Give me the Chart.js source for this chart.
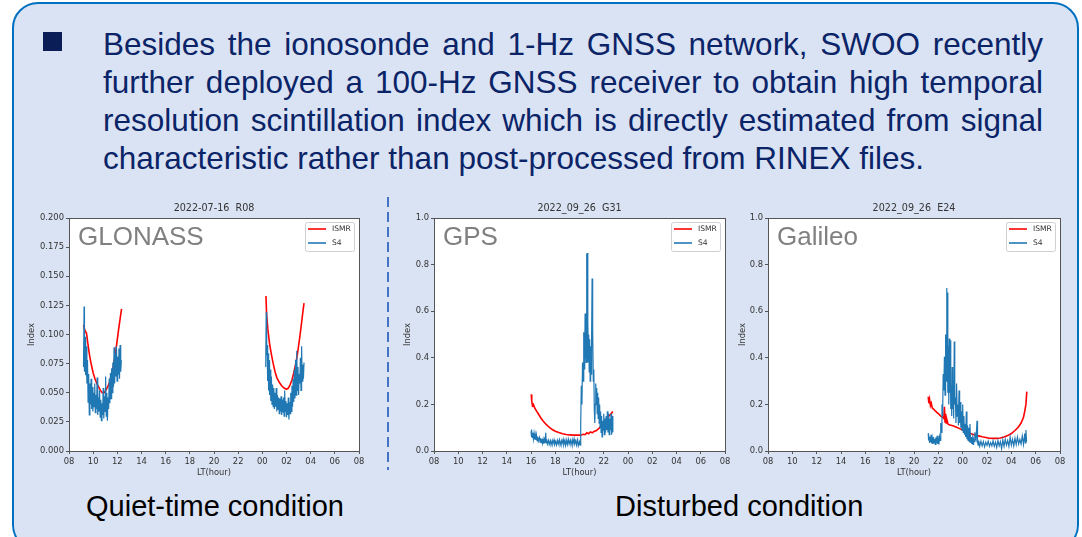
<!DOCTYPE html>
<html>
<head>
<meta charset="utf-8">
<script src="https://cdn.jsdelivr.net/npm/chart.js@4.4.0/dist/chart.umd.min.js"></script>
<style>
  html, body { margin: 0; padding: 0; background: #fff; overflow: hidden; }
  body { width: 1082px; height: 537px; position: relative; font-family: "Liberation Sans", Arial, sans-serif; }
  #slide {
    position: absolute; left: 12px; top: 2px; width: 1063px; height: 545px;
    background: #dae3f3; border: 2px solid #0070c0; border-radius: 26px;
  }
  #bullet { position: absolute; left: 43px; top: 32px; width: 19px; height: 19px; background: #0b1d57; }
  #para { position: absolute; left: 103px; top: 25px; width: 940px; color: #0b2468; font-size: 31.5px; line-height: 38px; }
  #para div { white-space: nowrap; }
  #para .j { text-align: justify; text-align-last: justify; white-space: normal; }
  .cap { position: absolute; top: 487px; font-size: 29px; line-height: 38px; color: #000; }
  #sep {
    position: absolute; left: 387px; top: 197px; width: 2px; height: 273px;
    background: repeating-linear-gradient(to bottom, #4472c4 0 10px, transparent 10px 15px);
  }
  canvas { position: absolute; }
</style>
</head>
<body>
<div id="slide"></div>
<div id="bullet"></div>
<div id="para">
  <div class="j">Besides the ionosonde and 1-Hz GNSS network, SWOO recently</div>
  <div class="j">further deployed a 100-Hz GNSS receiver to obtain high temporal</div>
  <div class="j">resolution scintillation index which is directly estimated from signal</div>
  <div>characteristic rather than post-processed from RINEX files.</div>
</div>
<div id="sep"></div>
<canvas id="glonass" width="355" height="285" style="left:20px;top:198px"></canvas>
<canvas id="gps" width="341" height="285" style="left:396px;top:198px"></canvas>
<canvas id="galileo" width="341" height="285" style="left:731px;top:198px"></canvas>
<div class="cap" style="left:86px">Quiet-time condition</div>
<div class="cap" style="left:615px">Disturbed condition</div>

<script>
// x axis runs 08 LT to 08 LT next day, hours > 24 are after midnight
const hourTicks = ["08", "10", "12", "14", "16", "18", "20", "22", "00", "02", "04", "06", "08"];
const quietTicks = ["0.000", "0.025", "0.050", "0.075", "0.100", "0.125", "0.150", "0.175", "0.200"];
const disturbedTicks = ["0.0", "0.2", "0.4", "0.6", "0.8", "1.0"];

const titles = ["2022-07-16  R08", "2022_09_26  G31", "2022_09_26  E24"];
const systems = ["GLONASS", "GPS", "Galileo"];
const seriesNames = ["ISMR", "S4"];

// GLONASS R08, two passes
const glonassIsmrA = [[9.2,0.108],[9.3,0.104],[9.45,0.101],[9.55,0.093],[9.7,0.082],[9.85,0.074],[10.0,0.067],[10.15,0.062],[10.3,0.058],[10.45,0.055],[10.6,0.052],[10.75,0.05],[10.9,0.05],[11.05,0.052],[11.2,0.055],[11.35,0.059],[11.5,0.065],[11.65,0.072],[11.8,0.081],[11.95,0.092],[12.1,0.104],[12.25,0.115],[12.35,0.122]];
const glonassIsmrB = [[24.3,0.133],[24.35,0.118],[24.45,0.105],[24.6,0.092],[24.75,0.083],[24.9,0.075],[25.05,0.068],[25.2,0.063],[25.4,0.059],[25.6,0.056],[25.8,0.054],[26.0,0.053],[26.15,0.054],[26.3,0.057],[26.45,0.061],[26.6,0.067],[26.75,0.074],[26.9,0.083],[27.05,0.094],[27.2,0.106],[27.35,0.119],[27.45,0.127]];
const glonassS4A = [[9.2,0.072],[9.25,0.124],[9.28,0.068],[9.33,0.098],[9.38,0.065],[9.43,0.09],[9.48,0.058],[9.53,0.078],[9.58,0.042],[9.63,0.066],[9.68,0.031],[9.73,0.058],[9.78,0.04],[9.83,0.062],[9.88,0.036],[9.93,0.055],[9.98,0.034],[10.03,0.05],[10.08,0.038],[10.13,0.058],[10.18,0.033],[10.23,0.048],[10.28,0.036],[10.33,0.063],[10.38,0.031],[10.43,0.046],[10.48,0.034],[10.53,0.052],[10.58,0.029],[10.63,0.044],[10.68,0.026],[10.73,0.041],[10.78,0.031],[10.83,0.054],[10.88,0.028],[10.93,0.047],[10.98,0.034],[11.03,0.064],[11.08,0.03],[11.13,0.05],[11.18,0.026],[11.23,0.046],[11.28,0.036],[11.33,0.062],[11.38,0.041],[11.43,0.067],[11.48,0.045],[11.53,0.071],[11.58,0.05],[11.63,0.076],[11.68,0.055],[11.73,0.089],[11.78,0.058],[11.83,0.084],[11.88,0.064],[11.93,0.09],[11.98,0.06],[12.03,0.081],[12.08,0.066],[12.13,0.088],[12.18,0.062],[12.23,0.091],[12.28,0.068],[12.33,0.078]];
const glonassS4B = [[24.28,0.072],[24.32,0.119],[24.36,0.082],[24.4,0.091],[24.44,0.06],[24.48,0.084],[24.52,0.052],[24.56,0.078],[24.6,0.048],[24.65,0.07],[24.7,0.043],[24.75,0.064],[24.8,0.04],[24.85,0.057],[24.9,0.038],[24.95,0.054],[25.0,0.036],[25.05,0.05],[25.1,0.038],[25.15,0.054],[25.2,0.034],[25.25,0.048],[25.3,0.036],[25.35,0.046],[25.4,0.032],[25.45,0.045],[25.5,0.034],[25.55,0.047],[25.6,0.031],[25.65,0.044],[25.7,0.033],[25.75,0.046],[25.8,0.03],[25.85,0.052],[25.9,0.034],[25.95,0.043],[26.0,0.029],[26.05,0.041],[26.1,0.031],[26.15,0.046],[26.2,0.027],[26.25,0.042],[26.3,0.032],[26.35,0.05],[26.4,0.034],[26.45,0.056],[26.5,0.038],[26.55,0.062],[26.6,0.042],[26.65,0.07],[26.7,0.045],[26.75,0.078],[26.8,0.048],[26.85,0.086],[26.9,0.052],[26.95,0.072],[27.0,0.048],[27.05,0.066],[27.1,0.058],[27.15,0.08],[27.2,0.052],[27.25,0.09],[27.3,0.06],[27.35,0.074],[27.4,0.062],[27.45,0.076]];

// GPS G31
const gpsIsmr = [[16.02,0.243],[16.06,0.215],[16.12,0.195],[16.2,0.2],[16.3,0.185],[16.45,0.172],[16.6,0.16],[16.8,0.143],[17.0,0.129],[17.25,0.114],[17.5,0.102],[17.75,0.092],[18.0,0.085],[18.3,0.079],[18.6,0.074],[18.9,0.071],[19.2,0.069],[19.5,0.068],[19.8,0.068],[20.1,0.068],[20.3,0.072],[20.45,0.07],[20.6,0.078],[20.75,0.074],[20.9,0.082],[21.05,0.078],[21.2,0.084],[21.4,0.088],[21.6,0.097],[21.8,0.108],[22.0,0.12],[22.2,0.134],[22.4,0.148],[22.6,0.16],[22.75,0.17]];
const gpsS4 = [[16.0,0.085],[16.03,0.06],[16.06,0.092],[16.1,0.058],[16.15,0.078],[16.2,0.052],[16.25,0.075],[16.3,0.05],[16.35,0.07],[16.4,0.047],[16.45,0.068],[16.5,0.044],[16.55,0.062],[16.6,0.042],[16.7,0.058],[16.75,0.038],[16.8,0.055],[16.85,0.036],[16.9,0.052],[16.95,0.034],[17.0,0.05],[17.05,0.032],[17.1,0.048],[17.15,0.034],[17.22,0.078],[17.25,0.036],[17.3,0.05],[17.35,0.03],[17.45,0.046],[17.5,0.028],[17.6,0.044],[17.65,0.026],[17.75,0.045],[17.8,0.03],[17.9,0.048],[17.95,0.028],[18.05,0.042],[18.1,0.026],[18.2,0.046],[18.25,0.03],[18.35,0.048],[18.4,0.025],[18.5,0.044],[18.55,0.03],[18.65,0.05],[18.7,0.027],[18.8,0.046],[18.85,0.024],[18.95,0.048],[19.0,0.028],[19.1,0.05],[19.15,0.03],[19.25,0.046],[19.3,0.026],[19.4,0.048],[19.45,0.028],[19.55,0.052],[19.6,0.03],[19.7,0.044],[19.75,0.026],[19.85,0.048],[19.9,0.022],[20.0,0.04],[20.05,0.025],[20.1,0.12],[20.15,0.28],[20.2,0.2],[20.25,0.38],[20.3,0.3],[20.33,0.51],[20.37,0.42],[20.4,0.5],[20.43,0.35],[20.46,0.59],[20.49,0.4],[20.52,0.52],[20.55,0.38],[20.58,0.847],[20.61,0.42],[20.64,0.85],[20.67,0.38],[20.7,0.56],[20.73,0.4],[20.76,0.5],[20.8,0.34],[20.84,0.48],[20.88,0.3],[20.92,0.45],[20.96,0.33],[21.0,0.5],[21.04,0.74],[21.07,0.45],[21.1,0.52],[21.14,0.3],[21.18,0.35],[21.22,0.18],[21.26,0.12],[21.3,0.2],[21.34,0.29],[21.38,0.2],[21.42,0.27],[21.46,0.16],[21.5,0.25],[21.54,0.14],[21.58,0.23],[21.62,0.12],[21.66,0.2],[21.7,0.1],[21.74,0.17],[21.78,0.08],[21.82,0.15],[21.86,0.06],[21.9,0.13],[21.95,0.09],[22.0,0.16],[22.05,0.07],[22.1,0.14],[22.15,0.08],[22.2,0.15],[22.25,0.09],[22.3,0.17],[22.35,0.08],[22.4,0.16],[22.45,0.07],[22.5,0.14],[22.55,0.09],[22.6,0.16],[22.65,0.07],[22.7,0.15],[22.75,0.08]];

// Galileo E24
const galileoIsmr = [[21.17,0.233],[21.22,0.205],[21.28,0.222],[21.35,0.195],[21.42,0.205],[21.5,0.185],[21.6,0.18],[21.75,0.172],[21.9,0.165],[22.05,0.158],[22.2,0.15],[22.35,0.145],[22.45,0.14],[22.5,0.19],[22.55,0.125],[22.6,0.16],[22.65,0.12],[22.7,0.135],[22.8,0.115],[22.95,0.112],[23.2,0.108],[23.5,0.102],[23.8,0.095],[24.1,0.087],[24.4,0.08],[24.7,0.074],[25.0,0.069],[25.3,0.065],[25.6,0.061],[25.9,0.058],[26.2,0.055],[26.5,0.054],[26.8,0.054],[27.1,0.056],[27.4,0.06],[27.7,0.066],[28.0,0.075],[28.3,0.088],[28.6,0.104],[28.8,0.12],[29.0,0.145],[29.1,0.17],[29.2,0.2],[29.27,0.255]];
const galileoS4 = [[21.17,0.076],[21.2,0.045],[21.24,0.062],[21.28,0.035],[21.32,0.058],[21.36,0.038],[21.4,0.07],[21.45,0.032],[21.5,0.055],[21.55,0.03],[21.6,0.06],[21.65,0.035],[21.7,0.052],[21.75,0.028],[21.8,0.058],[21.85,0.033],[21.9,0.065],[21.95,0.03],[22.0,0.05],[22.05,0.028],[22.1,0.06],[22.15,0.045],[22.2,0.12],[22.25,0.08],[22.3,0.2],[22.35,0.15],[22.4,0.33],[22.45,0.26],[22.5,0.405],[22.55,0.24],[22.6,0.5],[22.65,0.3],[22.68,0.7],[22.71,0.35],[22.74,0.68],[22.78,0.25],[22.82,0.45],[22.86,0.2],[22.9,0.483],[22.94,0.25],[22.98,0.475],[23.02,0.18],[23.06,0.28],[23.1,0.15],[23.14,0.36],[23.18,0.18],[23.22,0.3],[23.26,0.14],[23.31,0.47],[23.35,0.2],[23.4,0.23],[23.45,0.12],[23.5,0.29],[23.55,0.15],[23.6,0.2],[23.65,0.11],[23.7,0.26],[23.75,0.12],[23.8,0.21],[23.85,0.1],[23.9,0.17],[23.95,0.09],[24.0,0.2],[24.05,0.08],[24.1,0.15],[24.15,0.07],[24.2,0.116],[24.25,0.06],[24.3,0.17],[24.35,0.05],[24.4,0.11],[24.45,0.045],[24.5,0.1],[24.55,0.04],[24.6,0.116],[24.65,0.035],[24.7,0.06],[24.75,0.03],[24.8,0.055],[24.85,0.028],[24.9,0.05],[24.95,0.04],[25.0,0.08],[25.05,0.06],[25.1,0.05],[25.18,0.13],[25.22,0.04],[25.27,0.025],[25.32,0.045],[25.4,0.02],[25.5,0.042],[25.6,0.022],[25.7,0.04],[25.8,0.018],[25.9,0.038],[26.0,0.024],[26.1,0.042],[26.2,0.02],[26.3,0.036],[26.4,0.022],[26.5,0.044],[26.6,0.02],[26.7,0.038],[26.8,0.015],[26.9,0.045],[27.0,0.022],[27.1,0.04],[27.2,0.01],[27.3,0.048],[27.4,0.02],[27.5,0.05],[27.6,0.025],[27.7,0.045],[27.8,0.02],[27.9,0.06],[28.0,0.025],[28.1,0.05],[28.2,0.022],[28.3,0.055],[28.4,0.028],[28.5,0.06],[28.6,0.03],[28.7,0.05],[28.8,0.03],[28.9,0.065],[29.0,0.028],[29.1,0.075],[29.15,0.035],[29.2,0.09],[29.25,0.04]];

const red = "#ff0000";
const blue = "#1f77b4";
const textColor = "#333";
const mplFont = "'DejaVu Sans', sans-serif";

// white axes box, frame, title, system name and legend drawn the matplotlib way
const panelDecor = {
  id: "panelDecor",
  beforeDraw(chart) {
    const { ctx, chartArea: a } = chart;
    ctx.save();
    ctx.fillStyle = "#fff";
    ctx.fillRect(a.left, a.top, a.width, a.height);
    ctx.restore();
  },
  afterDraw(chart, args, opts) {
    const { ctx, chartArea: a } = chart;
    ctx.save();
    ctx.strokeStyle = "#555";
    ctx.lineWidth = 1;
    ctx.strokeRect(Math.round(a.left) + 0.5, Math.round(a.top) + 0.5, Math.round(a.width), Math.round(a.height));

    ctx.fillStyle = textColor;
    ctx.font = "9.6px " + mplFont;
    ctx.textAlign = "center";
    ctx.textBaseline = "middle";
    ctx.fillText(opts.title, (a.left + a.right) / 2, a.top - 10);

    ctx.fillStyle = "#808080";
    ctx.font = "26px 'Liberation Sans', Arial, sans-serif";
    ctx.textAlign = "left";
    ctx.textBaseline = "alphabetic";
    ctx.fillText(opts.system, a.left + 9, a.top + 27);

    // legend box, upper right
    const w = 49, h = 29;
    const x0 = a.right - 5 - w, y0 = a.top + 4;
    ctx.fillStyle = "rgba(255,255,255,0.9)";
    ctx.strokeStyle = "#d0d0d0";
    ctx.beginPath();
    ctx.roundRect(x0 + 0.5, y0 + 0.5, w, h, 2);
    ctx.fill();
    ctx.stroke();
    ctx.font = "7.6px " + mplFont;
    ctx.textBaseline = "middle";
    chart.data.datasets.forEach((ds, i) => {
      const y = y0 + 7 + i * 14;
      ctx.strokeStyle = ds.borderColor;
      ctx.lineWidth = 1.6;
      ctx.beginPath();
      ctx.moveTo(x0 + 3, y);
      ctx.lineTo(x0 + 21, y);
      ctx.stroke();
      ctx.fillStyle = textColor;
      ctx.fillText(ds.label, x0 + 27, y + 0.5);
    });
    ctx.restore();
  }
};

function makePanel(id, idx, ismr, s4, yMax, yStep, yLabels, yWidth) {
  const ctx = document.getElementById(id).getContext("2d");
  return new Chart(ctx, {
    type: "line",
    data: {
      datasets: [
        { label: seriesNames[0], data: ismr, borderColor: red, borderWidth: 1.6, pointRadius: 0, tension: 0, order: 1 },
        { label: seriesNames[1], data: s4, borderColor: blue, borderWidth: 1.2, pointRadius: 0, tension: 0, order: 0 }
      ]
    },
    options: {
      responsive: false,
      animation: false,
      spanGaps: false,
      layout: { padding: { top: 20, right: 12 + (id === "glonass" ? 4 : 0), bottom: 0, left: 0 } },
      plugins: {
        legend: { display: false },
        tooltip: { enabled: false },
        panelDecor: { title: titles[idx], system: systems[idx] }
      },
      scales: {
        x: {
          type: "linear",
          min: 8,
          max: 32,
          afterFit: (scale) => { scale.height = 32; },
          border: { display: false },
          grid: { drawOnChartArea: false, drawTicks: true, tickLength: 3, color: "#555" },
          ticks: {
            stepSize: 2,
            autoSkip: false,
            maxRotation: 0,
            padding: 3,
            color: textColor,
            font: { family: mplFont, size: 8.4 },
            callback: (v, i) => hourTicks[i]
          },
          title: {
            display: true,
            text: "LT(hour)",
            color: textColor,
            font: { family: mplFont, size: 8.3 },
            padding: { top: 0, bottom: 5 }
          }
        },
        y: {
          min: 0,
          max: yMax,
          afterFit: (scale) => { scale.width = yWidth; },
          border: { display: false },
          grid: { drawOnChartArea: false, drawTicks: true, tickLength: 3, color: "#555" },
          ticks: {
            stepSize: yStep,
            autoSkip: false,
            padding: 2,
            color: textColor,
            font: { family: mplFont, size: 8.4 },
            callback: (v, i) => yLabels[i]
          },
          title: {
            display: true,
            text: "Index",
            color: textColor,
            font: { family: mplFont, size: 8.3 },
            padding: { top: 7, bottom: 0 }
          }
        }
      }
    },
    plugins: [panelDecor]
  });
}

makePanel("glonass", 0,
  [...glonassIsmrA, [18, null], ...glonassIsmrB],
  [...glonassS4A, [18, null], ...glonassS4B],
  0.2, 0.025, quietTicks, 49);
makePanel("gps", 1, gpsIsmr, gpsS4, 1.0, 0.2, disturbedTicks, 38);
makePanel("galileo", 2, galileoIsmr, galileoS4, 1.0, 0.2, disturbedTicks, 37);
</script>
</body>
</html>
